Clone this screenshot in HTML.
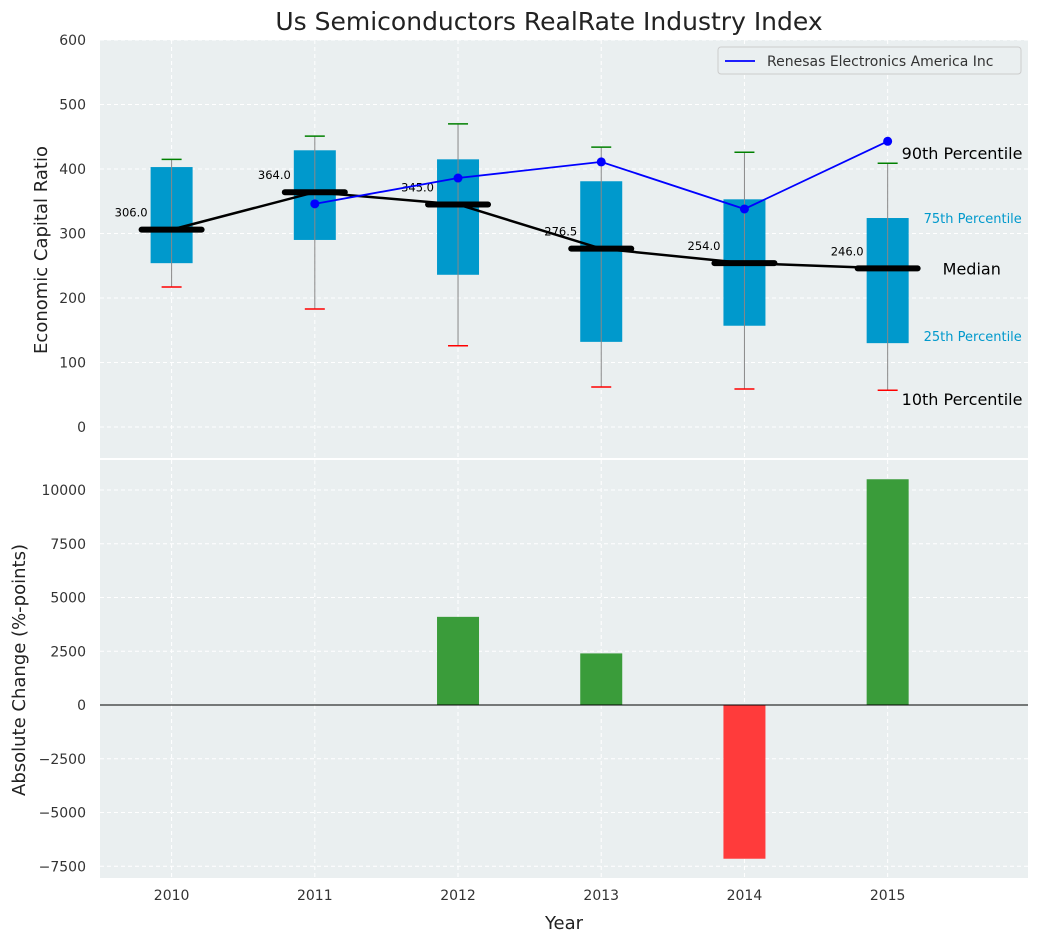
<!DOCTYPE html>
<html><head><meta charset="utf-8"><style>
body{margin:0;background:#fff;font-family:"Liberation Sans","DejaVu Sans",sans-serif;}
svg text{font-family:"DejaVu Sans","Liberation Sans",sans-serif;}
</style></head><body>
<svg id="c" width="1039" height="942" xmlns="http://www.w3.org/2000/svg"></svg>
<script>
const years=[2010,2011,2012,2013,2014,2015];
const p10=[217,183,126,62,59,57];
const p25=[254,290,236,132,157,130];
const medians=[306.0,364.0,345.0,276.5,254.0,246.0];
const p75=[403,429,415,381,353,324];
const p90=[415,451,470,434,426,409];
const renesasYears=[2011,2012,2013,2014,2015];
const renesas=[346,386,411,338,443];
const changeYears=[2010,2011,2012,2013,2014,2015];
const changes=[0,0,4100,2400,-7150,10500];
const topTicks=[0,100,200,300,400,500,600];
const botTicks=[-7500,-5000,-2500,0,2500,5000,7500,10000];

const NS="http://www.w3.org/2000/svg";
const svg=document.getElementById('c');
function el(t,a,txt){const e=document.createElementNS(NS,t);for(const k in a)e.setAttribute(k,a[k]);if(txt!==undefined)e.textContent=txt;svg.appendChild(e);return e;}
const L=100,R=1028;
const x=v=>L+(v-2009.5)/(2015.98-2009.5)*(R-L);
const T0=40,T1=458; const yT=v=>427-v*0.645;
const B0=460,B1=878; const yB=v=>705-v*0.0215;

let e;
e=el('rect',{x:L,y:T0,width:R-L,height:T1-T0,fill:'#eaeff0'});

e=el('rect',{x:L,y:B0,width:R-L,height:B1-B0,fill:'#eaeff0'});


// grids
years.forEach(yr=>{
 e=el('line',{x1:x(yr),x2:x(yr),y1:T0,y2:T1,stroke:'#fff','stroke-dasharray':'4,3'});
 
 e=el('line',{x1:x(yr),x2:x(yr),y1:B0,y2:B1,stroke:'#fff','stroke-dasharray':'4,3'});
 
 e=el('text',{x:x(yr),y:900,'font-size':14,fill:'#333','text-anchor':'middle'},yr);
 
});
topTicks.forEach(t=>{
 e=el('line',{x1:L,x2:R,y1:yT(t),y2:yT(t),stroke:'#fff','stroke-dasharray':'4,3'});
 
 e=el('text',{x:86,y:yT(t)+5,'font-size':14,fill:'#333','text-anchor':'end'},t);
 
});
botTicks.forEach(t=>{
 e=el('line',{x1:L,x2:R,y1:yB(t),y2:yB(t),stroke:'#fff','stroke-dasharray':'4,3'});
 
 e=el('text',{x:86,y:yB(t)+5,'font-size':14,fill:'#333','text-anchor':'end'},t<0?'\u2212'+(-t):t);
 
});

// boxes
years.forEach((yr,i)=>{
 const cx=x(yr);
 e=el('rect',{x:cx-21,y:yT(p75[i]),width:42,height:yT(p25[i])-yT(p75[i]),fill:'#0099cc'});
 
 e=el('line',{x1:cx,x2:cx,y1:yT(p90[i]),y2:yT(p10[i]),stroke:'#888','stroke-width':1});
 
 e=el('line',{x1:cx-10,x2:cx+10,y1:yT(p90[i]),y2:yT(p90[i]),stroke:'green','stroke-width':1.5});
 
 e=el('line',{x1:cx-10,x2:cx+10,y1:yT(p10[i]),y2:yT(p10[i]),stroke:'red','stroke-width':1.5});
 
});
// median line
e=el('polyline',{points:years.map((yr,i)=>x(yr)+','+yT(medians[i])).join(' '),fill:'none',stroke:'#000','stroke-width':2.5});

years.forEach((yr,i)=>{
 const cx=x(yr);
 e=el('line',{x1:cx-30,x2:cx+30,y1:yT(medians[i]),y2:yT(medians[i]),stroke:'#000','stroke-width':6,'stroke-linecap':'round'});
 
 e=el('text',{x:cx-24,y:yT(medians[i])-13,'font-size':11.5,fill:'#000','text-anchor':'end'},medians[i].toFixed(1));
 
});
// renesas
e=el('polyline',{points:renesasYears.map((yr,i)=>x(yr)+','+yT(renesas[i])).join(' '),fill:'none',stroke:'blue','stroke-width':1.8});

renesasYears.forEach((yr,i)=>{
 e=el('circle',{cx:x(yr),cy:yT(renesas[i]),r:4.5,fill:'blue'});
 
});
// percentile annotations
const lx=x(2015);
[['90th Percentile',lx+14,yT(p90[5])-4,16,'#000'],['75th Percentile',lx+36,yT(p75[5])+5,13,'#0099cc'],['Median',lx+55,yT(medians[5])+6,16,'#000'],['25th Percentile',lx+36,yT(p25[5])-2,13,'#0099cc'],['10th Percentile',lx+14,yT(p10[5])+15,16,'#000']].forEach(a=>{
 e=el('text',{x:a[1],y:a[2],'font-size':a[3],fill:a[4]},a[0]);
 
});
// legend
e=el('rect',{x:718,y:47,width:303,height:27,rx:3,fill:'#eaeff0',stroke:'#ccc'});

e=el('line',{x1:725,x2:755,y1:61,y2:61,stroke:'blue','stroke-width':1.8});

e=el('text',{x:767,y:66,'font-size':14,fill:'#333'},'Renesas Electronics America Inc');


// bars
changeYears.forEach((yr,i)=>{
 const v=changes[i]; if(v===0)return;
 const y0=yB(Math.max(v,0)),h=Math.abs(yB(v)-yB(0));
 e=el('rect',{x:x(yr)-21,y:y0,width:42,height:h,fill:v>0?'#3a9c3a':'#ff3b3b'});
 
});
e=el('line',{x1:L,x2:R,y1:yB(0),y2:yB(0),stroke:'#000','stroke-width':1});


// titles
e=el('text',{x:549,y:30,'font-size':25,fill:'#222','text-anchor':'middle'},'Us Semiconductors RealRate Industry Index');

e=el('text',{x:564,y:929,'font-size':18,fill:'#222','text-anchor':'middle'},'Year');

e=el('text',{x:0,y:0,'font-size':18,fill:'#222','text-anchor':'middle',transform:'translate(47,250) rotate(-90)'},'Economic Capital Ratio');

e=el('text',{x:0,y:0,'font-size':18,fill:'#222','text-anchor':'middle',transform:'translate(25,670) rotate(-90)'},'Absolute Change (%-points)');

</script>
</body></html>
